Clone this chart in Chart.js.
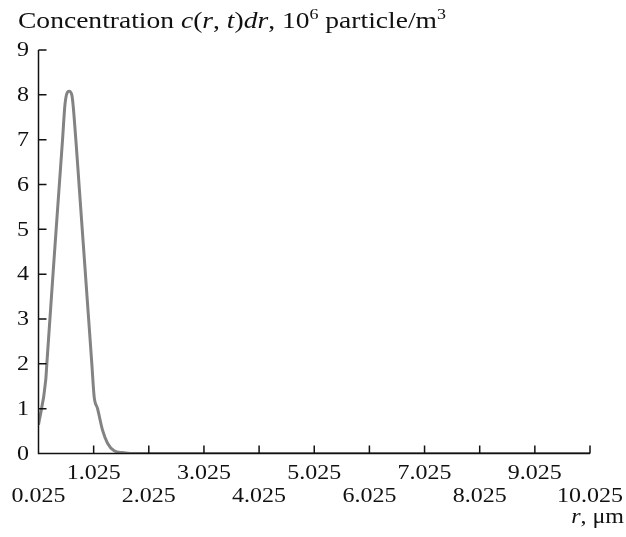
<!DOCTYPE html>
<html>
<head>
<meta charset="utf-8">
<script src="https://cdn.jsdelivr.net/npm/chart.js@4/dist/chart.umd.min.js"></script>
<style>
  html, body { margin: 0; padding: 0; background: #fff; }
  #wrap { width: 626px; height: 537px; }
</style>
</head>
<body>
<div id="wrap"><canvas id="conc" width="626" height="537"></canvas></div>
<script>
// radius, um
const rValues = [0.025, 0.157, 0.176, 0.232, 0.288, 0.345, 0.403, 0.461, 0.508, 0.58, 0.629, 0.702,
  0.76, 0.818, 0.876, 0.934, 0.992, 1.034, 1.096, 1.186, 1.277, 1.397, 1.549, 1.7, 10.025];
// concentration, 10^6 particle/m^3
const concValues = [0.64, 1.65, 2.0, 3.0, 4.0, 5.0, 6.0, 7.0, 7.82, 8.08, 8.0, 7.0,
  6.0, 5.0, 4.0, 3.0, 2.0, 1.27, 1.0, 0.52, 0.23, 0.06, 0.02, 0, 0];
const xTicks = [0.025, 1.025, 2.025, 3.025, 4.025, 5.025, 6.025, 7.025, 8.025, 9.025, 10.025];
const yTicks = [0, 1, 2, 3, 4, 5, 6, 7, 8, 9];

const FONT = "'Liberation Serif', 'Times New Roman', serif";
const SX = 1.2; // the scan is a little wider than tall

function wideText(ctx, text, x, y, align, sx) {
  ctx.save();
  ctx.translate(x, y);
  ctx.scale(sx, 1);
  ctx.textAlign = align;
  ctx.fillText(text, 0, 0);
  ctx.restore();
}

// title, tick labels, axis name, axis lines and inward tick marks
const decor = {
  id: 'decor',
  afterDatasetsDraw(chart) {
    const ctx = chart.ctx, x = chart.scales.x, y = chart.scales.y;
    const x0 = x.getPixelForValue(xTicks[0]), y0 = y.getPixelForValue(0);
    ctx.save();
    ctx.strokeStyle = '#111';
    ctx.lineWidth = 1.5;
    ctx.beginPath();
    ctx.moveTo(x0, y.getPixelForValue(9));
    ctx.lineTo(x0, y0);
    ctx.lineTo(x.getPixelForValue(xTicks[xTicks.length - 1]), y0);
    xTicks.slice(1).forEach(v => {
      const px = x.getPixelForValue(v);
      ctx.moveTo(px, y0);
      ctx.lineTo(px, y0 - 8);
    });
    yTicks.slice(1).forEach(v => {
      const py = y.getPixelForValue(v);
      ctx.moveTo(x0, py);
      ctx.lineTo(x0 + 8, py);
    });
    ctx.stroke();

    ctx.fillStyle = '#111';
    ctx.font = '20px ' + FONT;
    ctx.textBaseline = 'middle';
    yTicks.forEach(v => wideText(ctx, String(v), 29, y.getPixelForValue(v) + 1, 'right', SX));
    xTicks.forEach((v, i) => {
      const row = i % 2 === 0 ? 497 : 474;
      wideText(ctx, v.toFixed(3), x.getPixelForValue(v), row, 'center', SX);
    });

    ctx.textBaseline = 'alphabetic';
    const parts = [
      ['Concentration ', 'n'], ['c', 'i'], ['(', 'n'], ['r', 'i'], [', ', 'n'], ['t', 'i'],
      [')', 'n'], ['dr', 'i'], [', 10', 'n'], ['6', 's'], [' particle/m', 'n'], ['3', 's']
    ];
    const fontOf = s => s === 's' ? '15px ' + FONT : (s === 'i' ? 'italic ' : '') + '23px ' + FONT;
    let total = 0;
    parts.forEach(([t, s]) => { ctx.font = fontOf(s); total += ctx.measureText(t).width; });
    const tsx = 428 / total;
    let cx = 18;
    parts.forEach(([t, s]) => {
      ctx.font = fontOf(s);
      wideText(ctx, t, cx, s === 's' ? 19 : 28, 'left', tsx);
      cx += ctx.measureText(t).width * tsx;
    });

    ctx.font = '20px ' + FONT;
    const unit = ', \u03bcm';
    const uw = ctx.measureText(unit).width * SX;
    wideText(ctx, unit, 624 - uw, 523, 'left', SX);
    ctx.font = 'italic 20px ' + FONT;
    const rw = ctx.measureText('r').width * SX;
    wideText(ctx, 'r', 624 - uw - rw, 523, 'left', SX);
    ctx.restore();
  }
};

new Chart(document.getElementById('conc'), {
  type: 'line',
  data: {
    datasets: [{
      data: rValues.map((r, i) => ({ x: r, y: concValues[i] })),
      borderColor: '#838383',
      borderWidth: 3,
      pointRadius: 0,
      fill: false,
      cubicInterpolationMode: 'monotone'
    }]
  },
  options: {
    responsive: false,
    animation: false,
    layout: { padding: { top: 50, right: 36, left: 0, bottom: 0 } },
    plugins: { legend: { display: false }, title: { display: false }, tooltip: { enabled: false } },
    scales: {
      x: {
        type: 'linear',
        min: 0.025,
        max: 10.025,
        afterBuildTicks: s => { s.ticks = xTicks.map(v => ({ value: v })); },
        afterFit: s => { s.height = 83.5; },
        grid: { display: false, drawTicks: false },
        border: { display: false },
        ticks: { display: false }
      },
      y: {
        min: 0,
        max: 9,
        afterBuildTicks: s => { s.ticks = yTicks.map(v => ({ value: v })); },
        afterFit: s => { s.width = 38.5; },
        grid: { display: false, drawTicks: false },
        border: { display: false },
        ticks: { display: false }
      }
    }
  },
  plugins: [decor]
});
</script>
</body>
</html>
